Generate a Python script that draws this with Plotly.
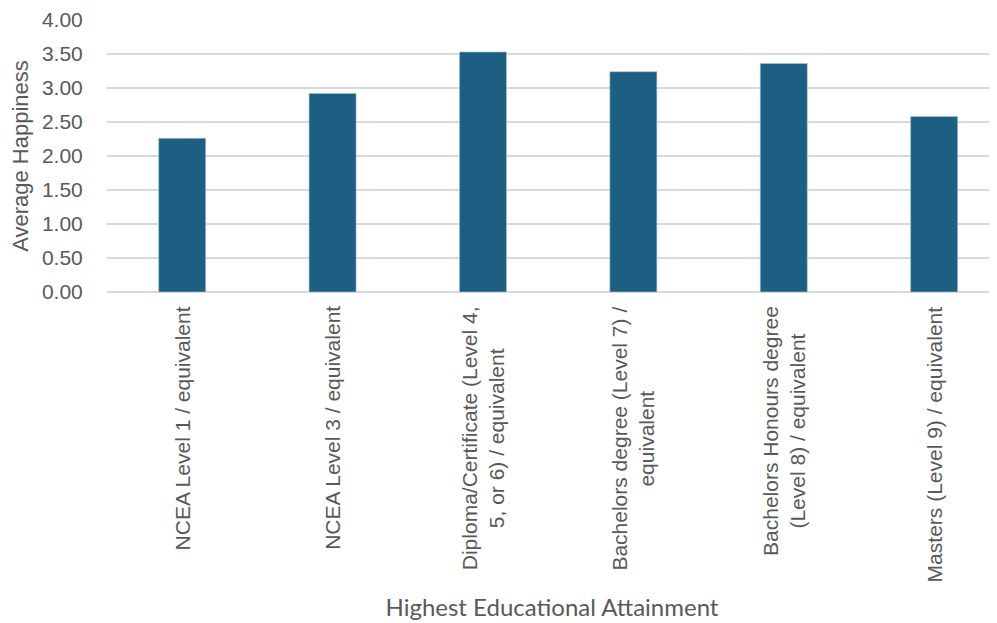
import plotly.graph_objects as go

categories = [
    "NCEA Level 1 / equivalent",
    "NCEA Level 3 / equivalent",
    "Diploma/Certificate (Level 4,<br>5, or 6) / equivalent",
    "Bachelors degree (Level 7) /<br>equivalent",
    "Bachelors Honours degree<br>(Level 8) / equivalent",
    "Masters (Level 9) / equivalent",
]
happiness = [2.26, 2.92, 3.53, 3.24, 3.36, 2.58]

y_title = "Average Happiness"
x_title = "Highest Educational Attainment"

BAR = "#1c5f82"
TXT = "#595959"
GRID = "#d9d9d9"
FONT = "Liberation Sans, Arial, sans-serif"

idx = list(range(len(categories)))

fig = go.Figure(
    go.Bar(
        x=idx,
        y=happiness,
        marker=dict(color=BAR, line=dict(color="#a9c3d4", width=0.6)),
        hoverinfo="skip",
    )
)

for i, lab in zip(idx, categories):
    fig.add_annotation(
        x=i, xref="x", y=-0.045, yref="paper",
        text=lab, textangle=-90, showarrow=False,
        xanchor="center", yanchor="top", align="center",
        font=dict(family=FONT, size=21, color=TXT),
    )

# page body has an 8px default margin, so the figure is sized to fit inside
fig.update_layout(
    width=989, height=615,
    margin=dict(l=99, r=0, t=12, b=331),
    paper_bgcolor="white", plot_bgcolor="white",
    showlegend=False, bargap=0.6875,
    font=dict(family=FONT, color=TXT),
)
fig.update_xaxes(
    range=[-0.5, 5.418], showticklabels=False, showgrid=False,
    zeroline=False, showline=False, ticks="",
    title=dict(text=x_title, standoff=307,
               font=dict(family="Lato, Liberation Sans, sans-serif", size=24, color=TXT)),
)
fig.update_yaxes(
    range=[0, 4], dtick=0.5, tickformat=".2f",
    showgrid=True, gridcolor=GRID, gridwidth=1.5,
    zeroline=True, zerolinecolor=GRID, zerolinewidth=1.5,
    showline=False, ticks="outside", ticklen=19, tickcolor="rgba(0,0,0,0)",
    tickfont=dict(family=FONT, size=21, color=TXT),
    title=dict(text=y_title, standoff=8,
               font=dict(family=FONT, size=22, color=TXT)),
)

fig.write_html("out.html")
